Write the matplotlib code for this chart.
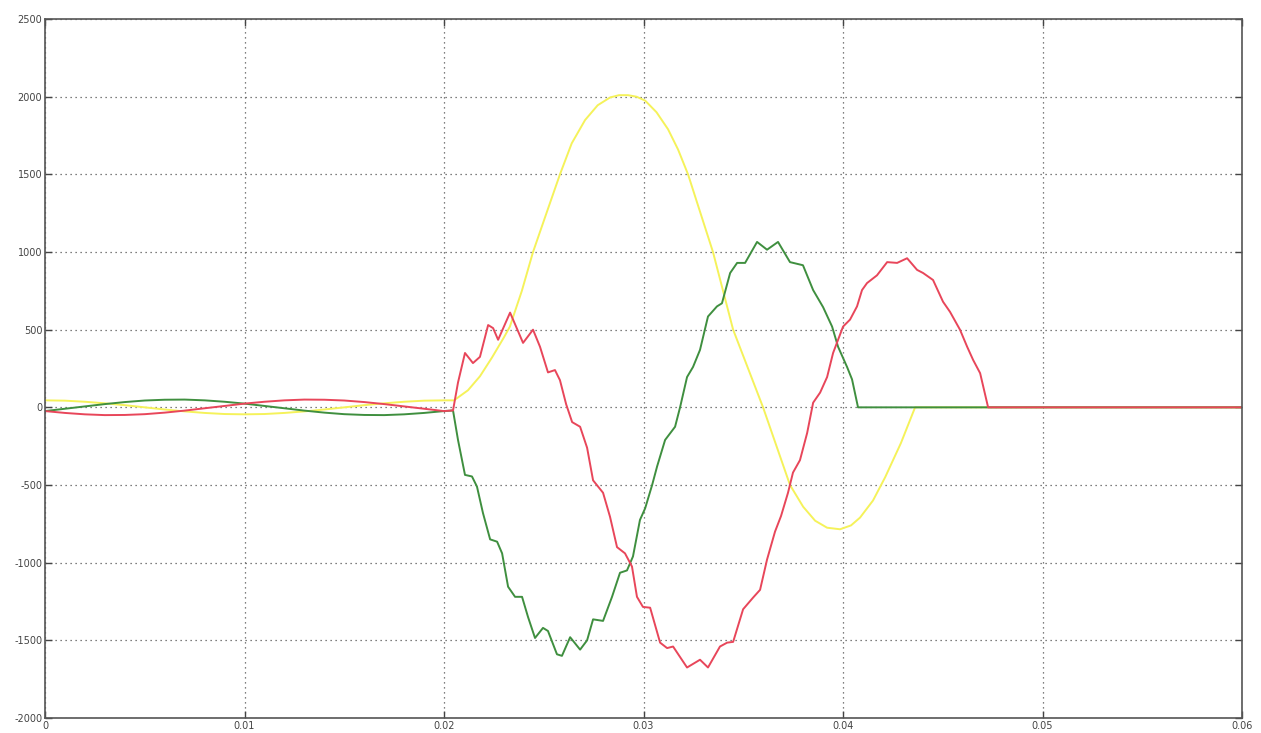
import numpy as np
import matplotlib.pyplot as plt

plt.rcParams['axes.unicode_minus'] = False

# time axis [s] and values
yellow_t = [0.000, 0.001, 0.002, 0.003, 0.004, 0.005, 0.006, 0.007, 0.008, 0.009,
            0.010, 0.011, 0.012, 0.013, 0.014, 0.015, 0.016, 0.017, 0.018, 0.019,
            0.020, 0.0205, 0.0212, 0.0218, 0.0224, 0.0230, 0.0233, 0.0239, 0.02446,
            0.02516, 0.02581, 0.0264, 0.02707, 0.0277, 0.02832, 0.02877, 0.02922,
            0.02965, 0.03008, 0.03065, 0.03123, 0.03173, 0.03223, 0.03348, 0.03449,
            0.03599, 0.03734, 0.0380, 0.0386, 0.0392, 0.03985, 0.0404, 0.04085,
            0.0415, 0.04211, 0.0429, 0.04361, 0.060]
yellow_v = [45, 43, 36, 26, 14, 0, -14, -26, -36, -43,
            -45, -43, -36, -26, -14, 0, 14, 26, 36, 43,
            45, 45, 110, 200, 320, 450, 520, 750, 1000,
            1260, 1500, 1700, 1850, 1945, 1995, 2010, 2010,
            2000, 1975, 1900, 1790, 1660, 1500, 1000, 500,
            0, -500, -640, -730, -775, -785, -760, -710,
            -600, -450, -230, 0, 0]

green_t = [0.000, 0.001, 0.002, 0.003, 0.004, 0.005, 0.006, 0.007, 0.008, 0.009,
           0.010, 0.011, 0.012, 0.013, 0.014, 0.015, 0.016, 0.017, 0.018, 0.019,
           0.020, 0.02045, 0.02070, 0.02105, 0.02140, 0.02165, 0.02195, 0.02231,
           0.02266, 0.02291, 0.02321, 0.02356, 0.02391, 0.02421, 0.02456, 0.02496,
           0.02521, 0.02566, 0.02591, 0.02632, 0.02682, 0.02717, 0.02747, 0.02797,
           0.02842, 0.02882, 0.02917, 0.02947, 0.02982, 0.03008, 0.03043, 0.03068,
           0.03108, 0.03158, 0.03183, 0.03218, 0.03248, 0.03283, 0.03323, 0.03368,
           0.03393, 0.03434, 0.03469, 0.03509, 0.03569, 0.03619, 0.03674, 0.03734,
           0.03799, 0.03850, 0.03900, 0.03945, 0.03975, 0.04020, 0.04045, 0.04075,
           0.060]
green_v = [-24, -9, 6, 21, 34, 44, 49, 50, 45, 36,
           24, 9, -6, -21, -34, -44, -49, -50, -45, -36,
           -24, -20, -210, -435, -445, -510, -680, -850,
           -865, -940, -1155, -1220, -1220, -1350, -1485, -1420,
           -1440, -1590, -1600, -1480, -1560, -1500, -1365, -1375,
           -1220, -1065, -1050, -960, -725, -650, -500, -380,
           -210, -125, 0, 195, 260, 370, 585, 650,
           670, 865, 930, 930, 1065, 1015, 1065, 935,
           915, 755, 645, 520, 390, 260, 180, 0,
           0]

red_t = [0.000, 0.001, 0.002, 0.003, 0.004, 0.005, 0.006, 0.007, 0.008, 0.009,
         0.010, 0.011, 0.012, 0.013, 0.014, 0.015, 0.016, 0.017, 0.018, 0.019,
         0.020, 0.02045, 0.02070, 0.02105, 0.02145, 0.02180, 0.02221, 0.02246,
         0.02271, 0.02331, 0.02396, 0.02446, 0.02481, 0.02521, 0.02556, 0.02581,
         0.02612, 0.02642, 0.02682, 0.02717, 0.02747, 0.02797, 0.02832, 0.02867,
         0.02907, 0.02942, 0.02967, 0.02997, 0.03033, 0.03083, 0.03118, 0.03148,
         0.03218, 0.03283, 0.03323, 0.03383, 0.03419, 0.03449, 0.03499, 0.03549,
         0.03584, 0.03619, 0.03659, 0.03689, 0.03724, 0.03749, 0.03784, 0.03820,
         0.03850, 0.03885, 0.03920, 0.03950, 0.03975, 0.04000, 0.04035, 0.04070,
         0.04095, 0.04120, 0.04170, 0.04221, 0.04271, 0.04321, 0.04371, 0.04401,
         0.04451, 0.04501, 0.04536, 0.04586, 0.04622, 0.04652, 0.04687, 0.04727,
         0.060]
red_v = [-24, -36, -45, -50, -49, -44, -34, -21, -6, 9,
         24, 36, 45, 50, 49, 44, 34, 21, 6, -9,
         -24, -20, 160, 350, 285, 325, 530, 510,
         435, 610, 415, 500, 390, 225, 240, 175,
         20, -95, -125, -260, -470, -550, -705, -900,
         -940, -1025, -1220, -1285, -1290, -1515, -1550, -1540,
         -1675, -1625, -1675, -1540, -1515, -1510, -1300, -1225,
         -1175, -980, -800, -700, -550, -420, -340, -165,
         30, 95, 195, 350, 435, 520, 565, 650,
         755, 800, 850, 935, 930, 960, 885, 865,
         820, 680, 615, 500, 390, 305, 220, 0,
         0]

xticks = [0, 0.01, 0.02, 0.03, 0.04, 0.05, 0.06]
xticklabels = ['0', '0.01', '0.02', '0.03', '0.04', '0.05', '0.06']
yticks = [-2000, -1500, -1000, -500, 0, 500, 1000, 1500, 2000, 2500]

fig = plt.figure(figsize=(12.61, 7.33), dpi=100)
ax = fig.add_axes([0.0357, 0.0205, 0.9493, 0.9535])

ax.plot(yellow_t, yellow_v, color='#f5f25a', lw=1.4)
ax.plot(green_t, green_v, color='#3f8f3f', lw=1.4)
ax.plot(red_t, red_v, color='#e8465a', lw=1.4)

ax.set_xlim(0, 0.06)
ax.set_ylim(-2000, 2500)
ax.set_xticks(xticks)
ax.set_xticklabels(xticklabels)
ax.set_yticks(yticks)
ax.grid(True, color='#555555', linestyle=(0, (1, 3)), linewidth=0.9)
ax.tick_params(direction='in', top=True, right=True, length=5, width=1.0,
               labelsize=7, colors='#444444', pad=2)
for s in ax.spines.values():
    s.set_color('#555555')
    s.set_linewidth(1.2)

fig.savefig('out.png', dpi=100)
